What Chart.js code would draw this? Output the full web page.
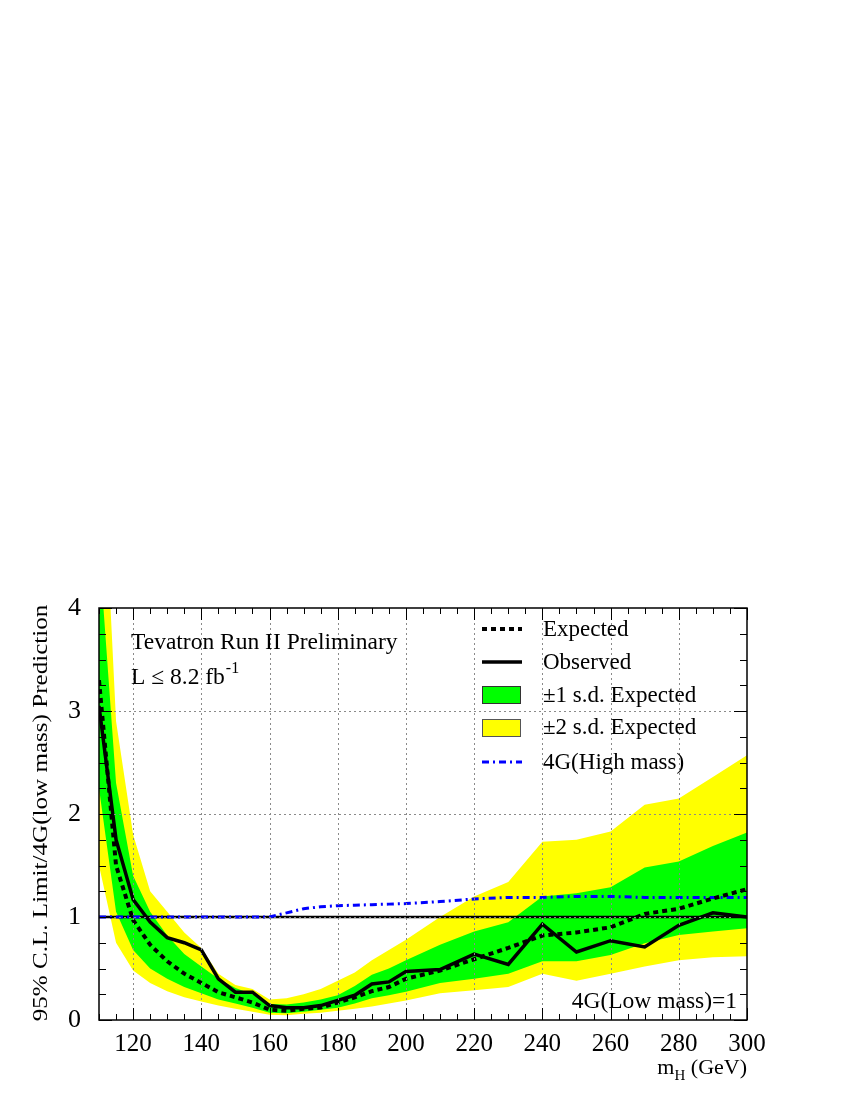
<!DOCTYPE html>
<html><head><meta charset="utf-8">
<script src="https://cdn.jsdelivr.net/npm/chart.js@4.4.0/dist/chart.umd.min.js"></script>
<style>html,body{margin:0;padding:0;background:#fff;} canvas{display:block;}</style>
</head><body>
<canvas id="c" width="850" height="1100"></canvas>
<script>
// ---- data ----
const massPoints    = [110,115,120,125,130,135,140,145,150,155,160,165,170,175,180,185,190,195,200,210,220,230,240,250,260,270,280,290,300];
const expectedLimit = [3.30,1.50,0.97,0.73,0.57,0.45,0.36,0.27,0.22,0.17,0.10,0.09,0.11,0.12,0.17,0.22,0.28,0.32,0.40,0.48,0.59,0.70,0.82,0.85,0.90,1.03,1.08,1.18,1.27];
const observedLimit = [3.05,1.75,1.17,0.95,0.80,0.75,0.68,0.40,0.27,0.27,0.14,0.12,0.12,0.14,0.19,0.24,0.35,0.37,0.47,0.49,0.64,0.54,0.93,0.66,0.77,0.71,0.92,1.04,1.00];
const plus1Sigma    = [4.60,2.30,1.40,1.05,0.82,0.64,0.52,0.40,0.31,0.25,0.155,0.15,0.17,0.20,0.24,0.33,0.44,0.50,0.58,0.73,0.86,0.95,1.20,1.23,1.29,1.48,1.54,1.69,1.82];
const minus1Sigma   = [2.25,1.05,0.68,0.50,0.40,0.32,0.26,0.20,0.16,0.12,0.07,0.065,0.08,0.10,0.12,0.16,0.21,0.24,0.275,0.36,0.40,0.45,0.57,0.57,0.63,0.745,0.825,0.86,0.89];
const plus2Sigma    = [6.30,2.90,1.80,1.25,1.05,0.85,0.70,0.45,0.34,0.30,0.20,0.21,0.25,0.30,0.38,0.46,0.58,0.68,0.78,1.00,1.20,1.34,1.73,1.75,1.83,2.09,2.15,2.36,2.57];
const minus2Sigma   = [1.50,0.75,0.48,0.36,0.28,0.22,0.18,0.14,0.11,0.08,0.05,0.045,0.06,0.07,0.09,0.11,0.13,0.16,0.19,0.26,0.29,0.32,0.45,0.38,0.45,0.52,0.58,0.61,0.62];
const highMass4G    = [1.00,1.00,1.00,1.00,1.00,1.00,1.00,1.00,1.00,1.00,1.00,1.04,1.08,1.10,1.11,1.115,1.12,1.125,1.13,1.15,1.175,1.19,1.19,1.20,1.20,1.19,1.19,1.19,1.19];
const unityLevel    = 1;
const xTickLabels   = [120,140,160,180,200,220,240,260,280,300];
const yTickLabels   = [0,1,2,3,4];
const legendLabels  = ['Expected','Observed','\u00B11 s.d. Expected','\u00B12 s.d. Expected','4G(High mass)'];

const FONT = '"Liberation Serif", "Times New Roman", serif';
const pts = arr => massPoints.map((m,i)=>({x:m,y:arr[i]}));
const band = (arr,color,fill,order) => ({data:pts(arr), fill:fill, backgroundColor:color, borderWidth:0, borderColor:'rgba(0,0,0,0)', pointRadius:0, order:order});

const decor = {
  id:'decor',
  afterDatasetsDraw(chart){
    const {ctx, chartArea:a, scales:{x,y}} = chart;
    ctx.save();
    // dotted grid
    ctx.strokeStyle = '#8a8a8a'; ctx.lineWidth = 1; ctx.setLineDash([2,3]);
    xTickLabels.forEach(v=>{ if(v>=300) return; const px=Math.round(x.getPixelForValue(v))+0.5;
      ctx.beginPath(); ctx.moveTo(px,a.top); ctx.lineTo(px,a.bottom); ctx.stroke(); });
    yTickLabels.forEach(v=>{ if(v<=0||v>=4) return; const py=Math.round(y.getPixelForValue(v))+0.5;
      ctx.beginPath(); ctx.moveTo(a.left,py); ctx.lineTo(a.right,py); ctx.stroke(); });
    ctx.setLineDash([]);
    // ticks
    ctx.strokeStyle='#000'; ctx.lineWidth=1;
    for(let m=110;m<=300;m+=5){ const px=Math.round(x.getPixelForValue(m))+0.5; const L=(m%20===0)?12:6;
      ctx.beginPath(); ctx.moveTo(px,a.bottom); ctx.lineTo(px,a.bottom-L); ctx.moveTo(px,a.top); ctx.lineTo(px,a.top+L); ctx.stroke(); }
    for(let k=0;k<=16;k++){ const v=k*0.25; const py=Math.round(y.getPixelForValue(v))+0.5; const L=(k%4===0)?13:7;
      ctx.beginPath(); ctx.moveTo(a.left,py); ctx.lineTo(a.left+L,py); ctx.moveTo(a.right,py); ctx.lineTo(a.right-L,py); ctx.stroke(); }
    // frame
    ctx.lineWidth=1.5; ctx.strokeRect(a.left, a.top, a.right-a.left, a.bottom-a.top);
    // texts
    ctx.fillStyle='#000'; ctx.textBaseline='alphabetic'; ctx.textAlign='left';
    ctx.font='23.5px '+FONT;
    ctx.fillText('Tevatron Run II Preliminary', 131, 649);
    const t2='L \u2264 8.2 fb'; ctx.fillText(t2, 131, 684);
    const w2=ctx.measureText(t2).width; ctx.font='16px '+FONT; ctx.fillText('-1', 131+w2+1, 673);
    ctx.font='23.5px '+FONT; ctx.textAlign='right'; ctx.fillText('4G(Low mass)=1', 737, 1008);
    // legend
    ctx.textAlign='left'; ctx.textBaseline='middle'; ctx.font='23px '+FONT;
    const ly=[629,662,695,727,762];
    legendLabels.forEach((t,i)=>ctx.fillText(t, 543, ly[i]+1));
    ctx.lineCap='butt';
    ctx.strokeStyle='#000'; ctx.lineWidth=4; ctx.setLineDash([5,4]);
    ctx.beginPath(); ctx.moveTo(482,ly[0]); ctx.lineTo(522,ly[0]); ctx.stroke();
    ctx.setLineDash([]); ctx.lineWidth=3.5;
    ctx.beginPath(); ctx.moveTo(482,ly[1]); ctx.lineTo(522,ly[1]); ctx.stroke();
    ctx.fillStyle='#00ff00'; ctx.fillRect(482,686,39,18); ctx.lineWidth=1; ctx.strokeStyle='#333'; ctx.strokeRect(482.5,686.5,38,17);
    ctx.fillStyle='#ffff00'; ctx.fillRect(482,719,39,18); ctx.strokeStyle='#555'; ctx.strokeRect(482.5,719.5,38,17);
    ctx.strokeStyle='#0000ff'; ctx.lineWidth=3; ctx.setLineDash([7,4,2,4]);
    ctx.beginPath(); ctx.moveTo(482,ly[4]); ctx.lineTo(522,ly[4]); ctx.stroke(); ctx.setLineDash([]);
    // y title
    ctx.fillStyle='#000';
    ctx.save(); ctx.translate(47, 813); ctx.rotate(-Math.PI/2); ctx.scale(1.14,1);
    ctx.font='22px '+FONT; ctx.textAlign='center'; ctx.textBaseline='alphabetic';
    ctx.fillText('95% C.L. Limit/4G(low mass) Prediction', 0, 0); ctx.restore();
    // x title
    ctx.textBaseline='alphabetic'; ctx.textAlign='left';
    ctx.font='22px '+FONT; const wm=ctx.measureText('m').width, wg=ctx.measureText(' (GeV)').width;
    ctx.font='15px '+FONT; const wh=ctx.measureText('H').width;
    let sx = 747 - (wm+wh+wg);
    ctx.font='22px '+FONT; ctx.fillText('m', sx, 1074);
    ctx.font='15px '+FONT; ctx.fillText('H', sx+wm, 1080);
    ctx.font='22px '+FONT; ctx.fillText(' (GeV)', sx+wm+wh, 1074);
    ctx.restore();
  }
};

new Chart(document.getElementById('c'), {
  type:'line',
  data:{datasets:[
    band(plus2Sigma,'#ffff00','+1',10),
    band(minus2Sigma,'#ffff00',false,10),
    band(plus1Sigma,'#00ff00','+1',9),
    band(minus1Sigma,'#00ff00',false,9),
    {data:[{x:massPoints[0],y:unityLevel},{x:massPoints[massPoints.length-1],y:unityLevel}], borderColor:'#000', borderWidth:2.5, pointRadius:0, fill:false, order:5},
    {data:pts(highMass4G), borderColor:'#0000ff', borderWidth:3, borderDash:[7,4,2,4], pointRadius:0, fill:false, order:4},
    {data:pts(expectedLimit), borderColor:'#000', borderWidth:4, borderDash:[5,4], pointRadius:0, fill:false, order:3},
    {data:pts(observedLimit), borderColor:'#000', borderWidth:3.5, pointRadius:0, fill:false, order:2}
  ]},
  options:{
    responsive:false, animation:false, devicePixelRatio:1,
    layout:{padding:{top:608,right:103,left:0,bottom:0}},
    plugins:{legend:{display:false}, tooltip:{enabled:false}},
    elements:{line:{tension:0}},
    scales:{
      x:{type:'linear', min:110, max:300, grid:{display:false}, border:{display:false},
         afterBuildTicks:s=>{s.ticks=xTickLabels.map(v=>({value:v}));},
         afterFit:s=>{s.height=80;},
         ticks:{font:{family:FONT,size:25}, color:'#000', padding:1, maxRotation:0, autoSkip:false}},
      y:{type:'linear', min:0, max:4, grid:{display:false}, border:{display:false},
         afterBuildTicks:s=>{s.ticks=yTickLabels.map(v=>({value:v}));},
         afterFit:s=>{s.width=99;},
         ticks:{font:{family:FONT,size:26}, color:'#000', padding:10, autoSkip:false}}
    }
  },
  plugins:[decor]
});
</script>
</body></html>
